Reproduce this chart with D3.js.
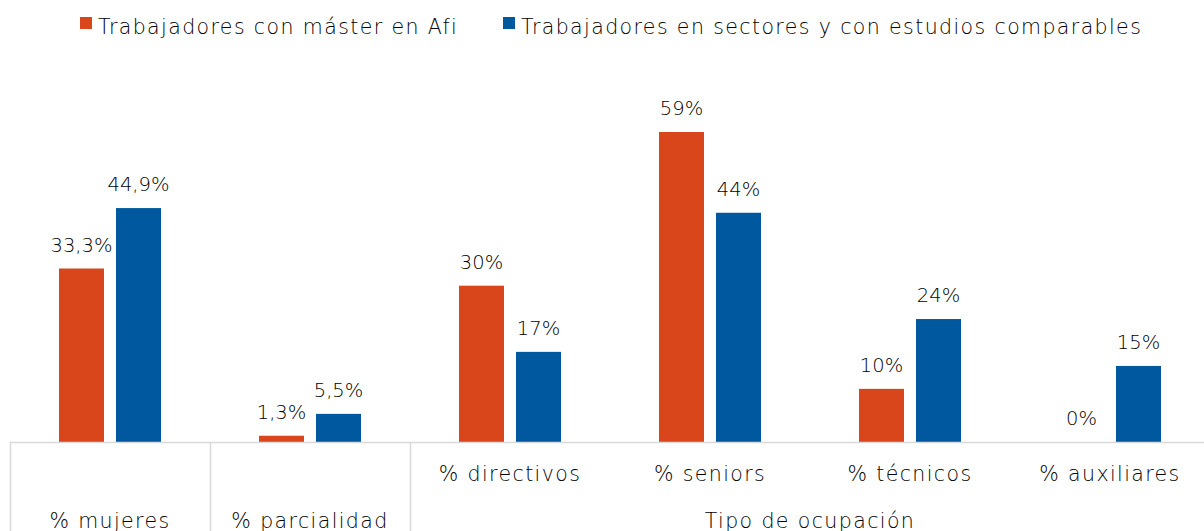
<!DOCTYPE html>
<html>
<head>
<meta charset="utf-8">
<script src="https://cdn.jsdelivr.net/npm/d3@7"></script>
<style>
  body { margin: 0; background: #fff; }
  svg { display: block; font-family: 'DejaVu Sans', sans-serif; font-weight: 300; }
  .word { font-size: 20.5px; letter-spacing: 1.4px; fill: #000; }
  .value { font-size: 19.5px; fill: #000; }
</style>
</head>
<body>
<svg id="chart" width="1204" height="531"></svg>
<script>
const categories = ['% mujeres', '% parcialidad', '% directivos', '% seniors', '% técnicos', '% auxiliares']
const seriesNames = ['Trabajadores con máster en Afi', 'Trabajadores en sectores y con estudios comparables']
const afiValues = [33.3, 1.2, 30, 59.5, 10.2, 0]
const compValues = [44.9, 5.4, 17.3, 44, 23.6, 14.6]
const afiLabels = ['33,3%', '1,3%', '30%', '59%', '10%', '0%']
const compLabels = ['44,9%', '5,5%', '17%', '44%', '24%', '15%']
const groupTitle = 'Tipo de ocupación'

const colors = ['#d9461b', '#00599e']
const gridColor = '#d9d9d9'

const svg = d3.select('#chart')
const width = 1204, height = 531
const baseY = 442

const x0 = d3.scaleBand()
  .domain(categories)
  .range([10, 1210])

const x1 = d3.scaleBand()
  .domain([0, 1])
  .range([49, 151])
  .paddingInner(0.2105)

const y = d3.scaleLinear()
  .domain([0, 60])
  .range([baseY, baseY - 60 * 5.21])

const rows = categories.map((c, i) => ({
  cat: c,
  vals: [
    { s: 0, v: afiValues[i], label: afiLabels[i] },
    { s: 1, v: compValues[i], label: compLabels[i] }
  ]
}))

// legend
const legend = svg.append('g').attr('class', 'legend')
const legendX = [80, 503]
seriesNames.forEach((name, i) => {
  const g = legend.append('g').attr('transform', `translate(${legendX[i]},0)`)
  g.append('rect')
    .attr('x', 0).attr('y', 17)
    .attr('width', 12).attr('height', 12)
    .style('fill', colors[i])
  g.append('text')
    .attr('class', 'word')
    .attr('x', 18).attr('y', 34)
    .text(name)
})

// bars
const groups = svg.selectAll('g.group')
  .data(rows)
  .enter().append('g')
    .attr('class', 'group')
    .attr('transform', d => `translate(${x0(d.cat)},0)`)

groups.selectAll('rect')
  .data(d => d.vals)
  .enter().append('rect')
    .attr('x', d => x1(d.s))
    .attr('width', x1.bandwidth())
    .attr('y', d => y(d.v))
    .attr('height', d => baseY - y(d.v))
    .style('fill', d => colors[d.s])

groups.selectAll('text.value')
  .data(d => d.vals)
  .enter().append('text')
    .attr('class', 'value')
    .attr('x', d => x1(d.s) + x1.bandwidth() / 2)
    .attr('y', d => y(d.v) - 17)
    .attr('text-anchor', 'middle')
    .text(d => d.label)

// category axis drawn as a table
const axis = svg.append('g').attr('class', 'axis')

axis.append('line')
  .attr('x1', 10).attr('x2', width)
  .attr('y1', baseY + 0.5).attr('y2', baseY + 0.5)
  .style('stroke', gridColor)
  .style('stroke-width', 1.5)

const sepX = [x0(categories[0]), x0(categories[1]), x0(categories[2])]
sepX.forEach(sx => {
  axis.append('line')
    .attr('x1', sx + 0.5).attr('x2', sx + 0.5)
    .attr('y1', baseY).attr('y2', height)
    .style('stroke', gridColor)
    .style('stroke-width', 1.5)
})

axis.selectAll('text.cat')
  .data(categories)
  .enter().append('text')
    .attr('class', 'cat word')
    .attr('x', d => x0(d) + x0.bandwidth() / 2)
    .attr('y', (d, i) => i < 2 ? 528 : 481)
    .attr('text-anchor', 'middle')
    .text(d => d)

axis.append('text')
  .attr('class', 'word')
  .attr('x', (x0(categories[2]) + x0(categories[5]) + x0.bandwidth()) / 2)
  .attr('y', 528)
  .attr('text-anchor', 'middle')
  .text(groupTitle)
</script>
</body>
</html>
